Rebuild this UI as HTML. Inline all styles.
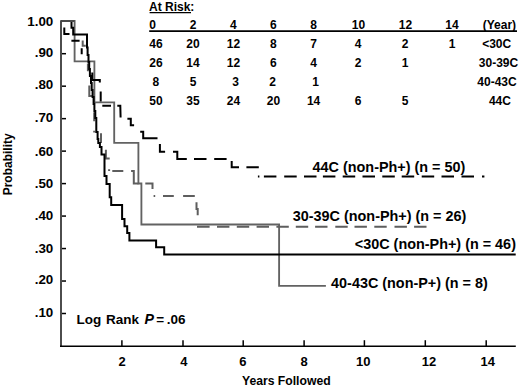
<!DOCTYPE html>
<html><head><meta charset="utf-8"><title>Kaplan-Meier</title>
<style>html,body{margin:0;padding:0;background:#fff;width:520px;height:386px;overflow:hidden}svg{display:block}</style>
</head><body>
<svg width="520" height="386" viewBox="0 0 520 386">
<rect width="520" height="386" fill="#fff"/>
<path d="M61.00,21.00 L74.60,21.00 L74.60,61.30 L94.40,61.30 L94.40,102.30 L114.20,102.30 L114.20,142.80 L138.40,142.80 L138.40,183.50 L141.40,183.50 L141.40,224.50 L279.10,224.50 L279.10,285.90 L325.90,285.90" fill="none" stroke="#626262" stroke-width="1.85"/>
<path d="M61,21 L74.6,21" stroke="#4a4a4a" stroke-width="2"/>
<path d="M82.70,40.50 L82.70,45.80 L85.80,45.80 M87.90,63.50 L87.90,71.30 M89.30,85.50 L89.30,96.00 L92.00,96.00 M94.20,112.30 L94.20,121.30 M94.20,130.80 L94.20,132.40 M101.00,133.20 L101.00,143.10 M105.90,149.80 L105.90,158.40 L109.70,158.40 M109.10,169.30 L109.10,171.10 M112.30,171.10 L123.30,171.10 M131.10,171.10 L133.80,171.10 L133.80,183.60 L138.50,183.60 M145.30,183.50 L152.50,183.50 L152.50,188.90 M153.60,195.90 L155.20,195.90 M163.00,196.00 L173.80,196.00 M183.10,196.00 L194.80,196.00 M196.50,202.20 L196.50,209.00 L197.70,209.00 L197.70,215.30 M197.00,226.80 L209.60,226.80 M217.00,226.80 L229.40,226.80 M236.80,226.80 L249.20,226.80 M256.60,226.80 L269.00,226.80 M276.40,226.80 L288.80,226.80 M295.80,226.80 L308.20,226.80 M315.10,226.80 L327.50,226.80 M335.30,226.80 L347.70,226.80 M354.50,226.80 L366.90,226.80 M374.30,226.80 L386.70,226.80 M394.50,226.80 L406.90,226.80 M414.10,226.80 L426.50,226.80" fill="none" stroke="#5e5e5e" stroke-width="2"/>
<path d="M71.50,22.00 L71.50,27.70 L73.20,27.70 L73.20,34.60 L87.00,34.60 L87.00,47.50 L87.60,47.50 L87.60,55.00 L88.50,55.00 L88.50,62.00 L89.20,62.00 L89.20,69.00 L89.90,69.00 L89.90,76.00 L91.00,76.00 L91.00,83.00 L91.70,83.00 L91.70,90.00 L92.60,90.00 L92.60,97.00 L93.60,97.00 L93.60,104.00 L94.40,104.00 L94.40,111.00 L95.30,111.00 L95.30,118.00 L96.30,118.00 L96.30,132.00 L97.60,132.00 L97.60,139.00 L98.30,139.00 L98.30,143.00 L99.90,143.00 L99.90,147.00 L101.50,147.00 L101.50,154.50 L104.50,154.50 L104.50,176.00 L106.50,176.00 L106.50,184.00 L109.70,184.00 L109.70,197.30 L111.20,197.30 L111.20,204.90 L122.10,204.90 L122.10,219.00 L124.50,219.00 L124.50,226.30 L127.20,226.30 L127.20,233.10 L129.40,233.10 L129.40,240.40 L156.10,240.40 L156.10,247.30 L164.20,247.30 L164.20,254.60 L515.70,254.60" fill="none" stroke="#000" stroke-width="2.0"/>
<path d="M64.30,27.50 L64.30,34.00 L69.50,34.00 M71.40,40.70 L79.60,40.70 M81.70,48.30 L81.70,54.30 M92.30,72.50 L92.30,79.90 L99.80,79.90 L99.80,82.50 M100.70,91.60 L100.70,101.50 M102.30,105.70 L111.00,105.70 M117.30,105.80 L120.30,105.80 L120.60,117.50 M127.40,118.70 L130.80,118.70 L130.80,125.20 L134.10,125.20 M140.20,131.70 L143.20,131.70 L143.20,138.30 L157.50,138.30 M159.90,144.10 L159.90,151.80 L165.10,151.80 M173.00,151.80 L177.30,151.80 L177.30,158.90 L186.80,158.90 M194.00,158.90 L206.50,158.90 M214.20,158.90 L226.60,158.90 M231.70,161.10 L231.70,167.30 L239.00,167.30 M246.40,167.30 L258.80,167.30 M257.90,176.60 L259.40,176.60 M263.90,176.60 L276.40,176.60 M284.20,176.60 L296.70,176.60 M304.00,176.60 L316.50,176.60 M322.90,176.60 L335.40,176.60 M342.70,176.60 L355.20,176.60 M362.50,176.60 L375.00,176.60 M382.30,176.60 L394.80,176.60 M401.70,176.60 L414.20,176.60 M421.70,176.60 L434.20,176.60 M441.50,176.60 L454.00,176.60 M461.50,176.60 L474.00,176.60 M482.00,176.60 L484.40,176.60" fill="none" stroke="#000" stroke-width="2.0"/>
<line x1="61" y1="20.2" x2="61" y2="347" stroke="#444" stroke-width="1.9"/>
<line x1="60" y1="346.2" x2="515.8" y2="346.2" stroke="#000" stroke-width="1.6"/>
<line x1="62" y1="53.70" x2="66" y2="53.70" stroke="#000" stroke-width="1.5"/>
<line x1="62" y1="86.18" x2="66" y2="86.18" stroke="#000" stroke-width="1.5"/>
<line x1="62" y1="118.65" x2="66" y2="118.65" stroke="#000" stroke-width="1.5"/>
<line x1="62" y1="151.12" x2="66" y2="151.12" stroke="#000" stroke-width="1.5"/>
<line x1="62" y1="183.60" x2="66" y2="183.60" stroke="#000" stroke-width="1.5"/>
<line x1="62" y1="216.07" x2="66" y2="216.07" stroke="#000" stroke-width="1.5"/>
<line x1="62" y1="248.55" x2="66" y2="248.55" stroke="#000" stroke-width="1.5"/>
<line x1="62" y1="281.03" x2="66" y2="281.03" stroke="#000" stroke-width="1.5"/>
<line x1="62" y1="313.50" x2="66" y2="313.50" stroke="#000" stroke-width="1.5"/>
<line x1="121.9" y1="340.2" x2="121.9" y2="346" stroke="#000" stroke-width="1.5"/>
<line x1="183" y1="340.2" x2="183" y2="346" stroke="#000" stroke-width="1.5"/>
<line x1="243.2" y1="340.2" x2="243.2" y2="346" stroke="#000" stroke-width="1.5"/>
<line x1="304.1" y1="340.2" x2="304.1" y2="346" stroke="#000" stroke-width="1.5"/>
<line x1="364.4" y1="340.2" x2="364.4" y2="346" stroke="#000" stroke-width="1.5"/>
<line x1="425.3" y1="340.2" x2="425.3" y2="346" stroke="#000" stroke-width="1.5"/>
<line x1="486.2" y1="340.2" x2="486.2" y2="346" stroke="#000" stroke-width="1.5"/>
<text x="53.3" y="25.95" font-family="Liberation Sans, sans-serif" font-weight="bold" font-size="13.4" text-anchor="end">1.00</text>
<text x="53.3" y="57.05" font-family="Liberation Sans, sans-serif" font-weight="bold" font-size="13.4" text-anchor="end">.90</text>
<text x="53.3" y="88.95" font-family="Liberation Sans, sans-serif" font-weight="bold" font-size="13.4" text-anchor="end">.80</text>
<text x="53.3" y="122.45" font-family="Liberation Sans, sans-serif" font-weight="bold" font-size="13.4" text-anchor="end">.70</text>
<text x="53.3" y="155.75" font-family="Liberation Sans, sans-serif" font-weight="bold" font-size="13.4" text-anchor="end">.60</text>
<text x="53.3" y="187.65" font-family="Liberation Sans, sans-serif" font-weight="bold" font-size="13.4" text-anchor="end">.50</text>
<text x="53.3" y="220.05" font-family="Liberation Sans, sans-serif" font-weight="bold" font-size="13.4" text-anchor="end">.40</text>
<text x="53.3" y="252.75" font-family="Liberation Sans, sans-serif" font-weight="bold" font-size="13.4" text-anchor="end">.30</text>
<text x="53.3" y="283.85" font-family="Liberation Sans, sans-serif" font-weight="bold" font-size="13.4" text-anchor="end">.20</text>
<text x="53.3" y="317.05" font-family="Liberation Sans, sans-serif" font-weight="bold" font-size="13.4" text-anchor="end">.10</text>
<text x="122.2" y="365.6" font-family="Liberation Sans, sans-serif" font-weight="bold" font-size="13" text-anchor="middle">2</text>
<text x="183.8" y="365.6" font-family="Liberation Sans, sans-serif" font-weight="bold" font-size="13" text-anchor="middle">4</text>
<text x="242.9" y="365.6" font-family="Liberation Sans, sans-serif" font-weight="bold" font-size="13" text-anchor="middle">6</text>
<text x="304.1" y="365.6" font-family="Liberation Sans, sans-serif" font-weight="bold" font-size="13" text-anchor="middle">8</text>
<text x="363.2" y="365.6" font-family="Liberation Sans, sans-serif" font-weight="bold" font-size="13" text-anchor="middle">10</text>
<text x="429.1" y="365.6" font-family="Liberation Sans, sans-serif" font-weight="bold" font-size="13" text-anchor="middle">12</text>
<text x="487.7" y="365.6" font-family="Liberation Sans, sans-serif" font-weight="bold" font-size="13" text-anchor="middle">14</text>
<text x="286.3" y="385.3" font-family="Liberation Sans, sans-serif" font-weight="bold" font-size="12.2" text-anchor="middle">Years Followed</text>
<text transform="translate(12.2,164.3) rotate(-90)" x="0" y="0" font-family="Liberation Sans, sans-serif" font-weight="bold" font-size="12" text-anchor="middle">Probability</text>
<text x="149" y="10.7" font-family="Liberation Sans, sans-serif" font-weight="bold" font-size="12">At Risk:</text>
<line x1="149.6" y1="12.6" x2="191" y2="12.6" stroke="#000" stroke-width="1.2"/>
<line x1="149.2" y1="31.1" x2="517" y2="31.1" stroke="#000" stroke-width="1.7"/>
<text x="152.5" y="29.2" font-family="Liberation Sans, sans-serif" font-weight="bold" font-size="12" text-anchor="middle">0</text>
<text x="193.1" y="29.2" font-family="Liberation Sans, sans-serif" font-weight="bold" font-size="12" text-anchor="middle">2</text>
<text x="233.4" y="29.2" font-family="Liberation Sans, sans-serif" font-weight="bold" font-size="12" text-anchor="middle">4</text>
<text x="273.4" y="29.2" font-family="Liberation Sans, sans-serif" font-weight="bold" font-size="12" text-anchor="middle">6</text>
<text x="313.5" y="29.2" font-family="Liberation Sans, sans-serif" font-weight="bold" font-size="12" text-anchor="middle">8</text>
<text x="358.4" y="29.2" font-family="Liberation Sans, sans-serif" font-weight="bold" font-size="12" text-anchor="middle">10</text>
<text x="405.4" y="29.2" font-family="Liberation Sans, sans-serif" font-weight="bold" font-size="12" text-anchor="middle">12</text>
<text x="451.9" y="29.2" font-family="Liberation Sans, sans-serif" font-weight="bold" font-size="12" text-anchor="middle">14</text>
<text x="499.4" y="29.2" font-family="Liberation Sans, sans-serif" font-weight="bold" font-size="12" text-anchor="middle">(Year)</text>
<text x="156" y="48.0" font-family="Liberation Sans, sans-serif" font-weight="bold" font-size="12" text-anchor="middle">46</text>
<text x="193" y="48.0" font-family="Liberation Sans, sans-serif" font-weight="bold" font-size="12" text-anchor="middle">20</text>
<text x="233.4" y="48.0" font-family="Liberation Sans, sans-serif" font-weight="bold" font-size="12" text-anchor="middle">12</text>
<text x="273.4" y="48.0" font-family="Liberation Sans, sans-serif" font-weight="bold" font-size="12" text-anchor="middle">8</text>
<text x="313.6" y="48.0" font-family="Liberation Sans, sans-serif" font-weight="bold" font-size="12" text-anchor="middle">7</text>
<text x="358" y="48.0" font-family="Liberation Sans, sans-serif" font-weight="bold" font-size="12" text-anchor="middle">4</text>
<text x="405.2" y="48.0" font-family="Liberation Sans, sans-serif" font-weight="bold" font-size="12" text-anchor="middle">2</text>
<text x="452" y="48.0" font-family="Liberation Sans, sans-serif" font-weight="bold" font-size="12" text-anchor="middle">1</text>
<text x="496.7" y="48.0" font-family="Liberation Sans, sans-serif" font-weight="bold" font-size="12" text-anchor="middle">&lt;30C</text>
<text x="156" y="67.2" font-family="Liberation Sans, sans-serif" font-weight="bold" font-size="12" text-anchor="middle">26</text>
<text x="193" y="67.2" font-family="Liberation Sans, sans-serif" font-weight="bold" font-size="12" text-anchor="middle">14</text>
<text x="233.4" y="67.2" font-family="Liberation Sans, sans-serif" font-weight="bold" font-size="12" text-anchor="middle">12</text>
<text x="273.4" y="67.2" font-family="Liberation Sans, sans-serif" font-weight="bold" font-size="12" text-anchor="middle">6</text>
<text x="313.6" y="67.2" font-family="Liberation Sans, sans-serif" font-weight="bold" font-size="12" text-anchor="middle">4</text>
<text x="358" y="67.2" font-family="Liberation Sans, sans-serif" font-weight="bold" font-size="12" text-anchor="middle">2</text>
<text x="405.2" y="67.2" font-family="Liberation Sans, sans-serif" font-weight="bold" font-size="12" text-anchor="middle">1</text>
<text x="498.5" y="67.2" font-family="Liberation Sans, sans-serif" font-weight="bold" font-size="12" text-anchor="middle">30-39C</text>
<text x="155.8" y="86.0" font-family="Liberation Sans, sans-serif" font-weight="bold" font-size="12" text-anchor="middle">8</text>
<text x="193.0" y="86.0" font-family="Liberation Sans, sans-serif" font-weight="bold" font-size="12" text-anchor="middle">5</text>
<text x="235.5" y="86.0" font-family="Liberation Sans, sans-serif" font-weight="bold" font-size="12" text-anchor="middle">3</text>
<text x="272.6" y="86.0" font-family="Liberation Sans, sans-serif" font-weight="bold" font-size="12" text-anchor="middle">2</text>
<text x="315.6" y="86.0" font-family="Liberation Sans, sans-serif" font-weight="bold" font-size="12" text-anchor="middle">1</text>
<text x="497" y="86.0" font-family="Liberation Sans, sans-serif" font-weight="bold" font-size="12" text-anchor="middle">40-43C</text>
<text x="156" y="105.0" font-family="Liberation Sans, sans-serif" font-weight="bold" font-size="12" text-anchor="middle">50</text>
<text x="193" y="105.0" font-family="Liberation Sans, sans-serif" font-weight="bold" font-size="12" text-anchor="middle">35</text>
<text x="233.4" y="105.0" font-family="Liberation Sans, sans-serif" font-weight="bold" font-size="12" text-anchor="middle">24</text>
<text x="273.4" y="105.0" font-family="Liberation Sans, sans-serif" font-weight="bold" font-size="12" text-anchor="middle">20</text>
<text x="313.6" y="105.0" font-family="Liberation Sans, sans-serif" font-weight="bold" font-size="12" text-anchor="middle">14</text>
<text x="358" y="105.0" font-family="Liberation Sans, sans-serif" font-weight="bold" font-size="12" text-anchor="middle">6</text>
<text x="405.2" y="105.0" font-family="Liberation Sans, sans-serif" font-weight="bold" font-size="12" text-anchor="middle">5</text>
<text x="499.9" y="105.0" font-family="Liberation Sans, sans-serif" font-weight="bold" font-size="12" text-anchor="middle">44C</text>
<text x="312.6" y="172.0" font-family="Liberation Sans, sans-serif" font-weight="bold" font-size="14.4">44C (non-Ph+) (n = 50)</text>
<text x="292.8" y="221.3" font-family="Liberation Sans, sans-serif" font-weight="bold" font-size="14.4">30-39C (non-Ph+) (n = 26)</text>
<text x="354.8" y="249.3" font-family="Liberation Sans, sans-serif" font-weight="bold" font-size="14.4">&lt;30C (non-Ph+) (n = 46)</text>
<text x="331.1" y="288.2" font-family="Liberation Sans, sans-serif" font-weight="bold" font-size="14.4">40-43C (non-P+) (n = 8)</text>
<text x="76.6" y="324.2" font-family="Liberation Sans, sans-serif" font-weight="bold" font-size="13.5">Log</text>
<text x="106.1" y="324.2" font-family="Liberation Sans, sans-serif" font-weight="bold" font-size="13.5">Rank</text>
<text x="144.6" y="324.2" font-family="Liberation Sans, sans-serif" font-weight="bold" font-size="14.2" font-style="italic">P</text>
<text x="156.3" y="324.2" font-family="Liberation Sans, sans-serif" font-weight="bold" font-size="13.5">=</text>
<text x="166.8" y="324.2" font-family="Liberation Sans, sans-serif" font-weight="bold" font-size="13.5">.06</text>
</svg>
</body></html>
